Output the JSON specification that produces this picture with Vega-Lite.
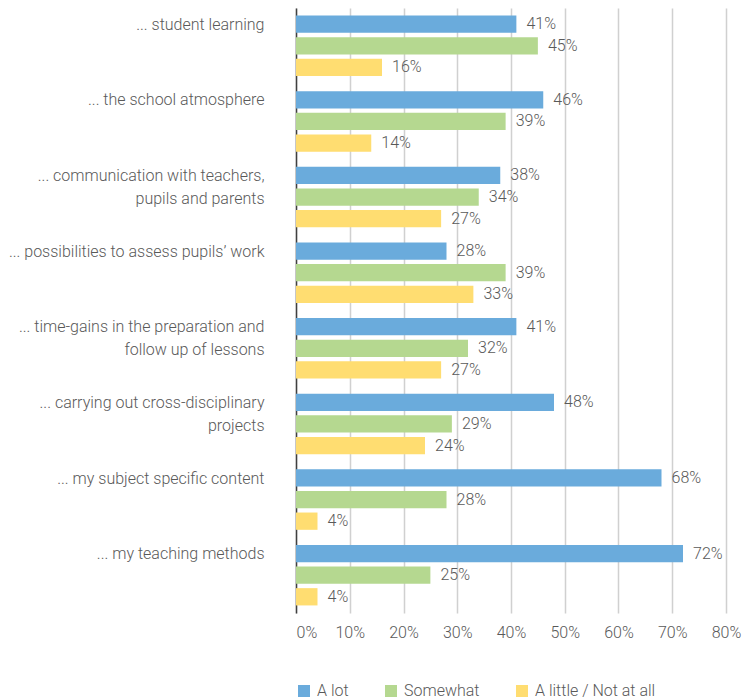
{
  "$schema": "https://vega.github.io/schema/vega-lite/v6.json",
  "autosize": "none",
  "width": 430,
  "height": 605,
  "padding": {"left": 296, "top": 8, "right": 16, "bottom": 87},
  "background": "white",
  "config": {
    "font": "Roboto",
    "view": {"stroke": null}
  },
  "data": {
    "values": [
      {"item": "... student learning", "series": "A lot", "value": 0.41},
      {"item": "... student learning", "series": "Somewhat", "value": 0.45},
      {"item": "... student learning", "series": "A little / Not at all", "value": 0.16},
      {"item": "... the school atmosphere", "series": "A lot", "value": 0.46},
      {"item": "... the school atmosphere", "series": "Somewhat", "value": 0.39},
      {"item": "... the school atmosphere", "series": "A little / Not at all", "value": 0.14},
      {"item": "... communication with teachers,|pupils and parents", "series": "A lot", "value": 0.38},
      {"item": "... communication with teachers,|pupils and parents", "series": "Somewhat", "value": 0.34},
      {"item": "... communication with teachers,|pupils and parents", "series": "A little / Not at all", "value": 0.27},
      {"item": "... possibilities to assess pupils’ work", "series": "A lot", "value": 0.28},
      {"item": "... possibilities to assess pupils’ work", "series": "Somewhat", "value": 0.39},
      {"item": "... possibilities to assess pupils’ work", "series": "A little / Not at all", "value": 0.33},
      {"item": "... time-gains in the preparation and|follow up of lessons", "series": "A lot", "value": 0.41},
      {"item": "... time-gains in the preparation and|follow up of lessons", "series": "Somewhat", "value": 0.32},
      {"item": "... time-gains in the preparation and|follow up of lessons", "series": "A little / Not at all", "value": 0.27},
      {"item": "... carrying out cross-disciplinary|projects", "series": "A lot", "value": 0.48},
      {"item": "... carrying out cross-disciplinary|projects", "series": "Somewhat", "value": 0.29},
      {"item": "... carrying out cross-disciplinary|projects", "series": "A little / Not at all", "value": 0.24},
      {"item": "... my subject specific content", "series": "A lot", "value": 0.68},
      {"item": "... my subject specific content", "series": "Somewhat", "value": 0.28},
      {"item": "... my subject specific content", "series": "A little / Not at all", "value": 0.04},
      {"item": "... my teaching methods", "series": "A lot", "value": 0.72},
      {"item": "... my teaching methods", "series": "Somewhat", "value": 0.25},
      {"item": "... my teaching methods", "series": "A little / Not at all", "value": 0.04}
    ]
  },
  "encoding": {
    "y": {
      "field": "item",
      "type": "nominal",
      "sort": null,
      "scale": {"paddingInner": 0.2, "paddingOuter": 0.1},
      "axis": {
        "title": null,
        "ticks": false,
        "grid": false,
        "domainColor": "#404040",
        "domainWidth": 1.5,
        "labelPadding": 32,
        "labelFontSize": 16,
        "labelFontWeight": 300,
        "labelColor": "#595959",
        "labelAlign": "right",
        "labelBaseline": "top",
        "labelOffset": -29,
        "labelLineHeight": 23,
        "labelLimit": 400,
        "labelExpr": "split(datum.label, '|')"
      }
    },
    "yOffset": {
      "field": "series",
      "type": "nominal",
      "sort": ["A lot", "Somewhat", "A little / Not at all"],
      "scale": {"paddingInner": 0.2, "paddingOuter": 0}
    },
    "x": {
      "field": "value",
      "type": "quantitative",
      "scale": {"domain": [0, 0.8], "nice": false},
      "axis": {
        "title": null,
        "format": ".0%",
        "values": [0, 0.1, 0.2, 0.3, 0.4, 0.5, 0.6, 0.7, 0.8],
        "domain": false,
        "ticks": false,
        "grid": true,
        "gridColor": "#d0d0d0",
        "gridWidth": 1.5,
        "labelFontSize": 16,
        "labelFontWeight": 300,
        "labelColor": "#595959",
        "labelPadding": 11,
        "labelAlign": {"condition": {"test": "datum.value == 0", "value": "left"}, "value": "center"}
      }
    }
  },
  "layer": [
    {
      "mark": {"type": "bar"},
      "encoding": {
        "color": {
          "field": "series",
          "type": "nominal",
          "sort": ["A lot", "Somewhat", "A little / Not at all"],
          "scale": {
            "domain": ["A lot", "Somewhat", "A little / Not at all"],
            "range": ["#6aabdc", "#b5d890", "#ffdd71"]
          },
          "legend": {
            "title": null,
            "orient": "none",
            "legendX": 0,
            "legendY": 675,
            "direction": "horizontal",
            "symbolType": "square",
            "symbolSize": 144,
            "symbolStrokeWidth": 0,
            "labelFontSize": 16,
            "labelFontWeight": 300,
            "labelColor": "#595959",
            "columnPadding": 34,
            "labelOffset": 5
          }
        }
      }
    },
    {
      "mark": {"type": "text", "align": "left", "baseline": "middle", "dx": 10, "fontSize": 16, "fontWeight": 300, "color": "#595959"},
      "encoding": {
        "text": {"field": "value", "type": "quantitative", "format": ".0%"}
      }
    }
  ]
}
